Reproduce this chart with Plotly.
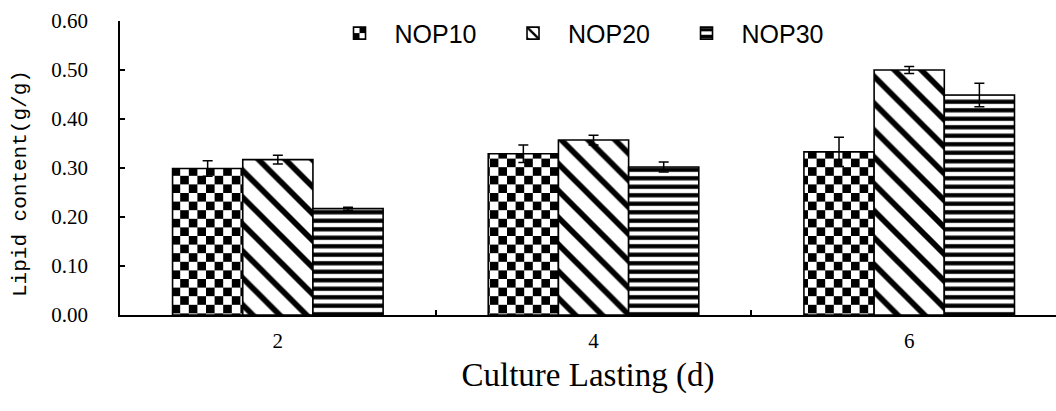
import plotly.graph_objects as go

# Culture time (days) on the category axis
days = ["2", "4", "6"]

# Lipid content (g/g) and standard errors per treatment
nop10 = [0.299, 0.329, 0.333]
nop10_err = [0.016, 0.018, 0.030]
nop20 = [0.317, 0.357, 0.500]
nop20_err = [0.009, 0.010, 0.007]
nop30 = [0.217, 0.302, 0.449]
nop30_err = [0.003, 0.010, 0.024]

y_ticks = [0.0, 0.1, 0.2, 0.3, 0.4, 0.5, 0.6]

series = [
    ("NOP10", nop10, nop10_err, "+", 17.2, 0.5),
    ("NOP20", nop20, nop20_err, "\\", 19, 0.3),
    ("NOP30", nop30, nop30_err, "-", 8.5, 0.5),
]

fig = go.Figure()
for name, vals, errs, shape, size, solidity in series:
    fig.add_trace(go.Bar(
        name=name,
        x=days,
        y=vals,
        error_y=dict(type="data", array=errs, visible=True,
                     color="black", thickness=1.5, width=5),
        marker=dict(
            color="white",
            line=dict(color="black", width=1.6),
            pattern=dict(shape=shape, size=size, solidity=solidity,
                         fgcolor="black", bgcolor="white", fillmode="replace"),
        ),
    ))

tick_font = dict(family="Liberation Serif", size=21, color="black")

fig.update_layout(
    width=1056,
    height=411,
    margin=dict(l=120, r=0, t=21, b=96),
    paper_bgcolor="white",
    plot_bgcolor="white",
    barmode="group",
    bargap=0.333,
    bargroupgap=0,
    showlegend=True,
    legend=dict(
        orientation="h",
        x=0.2185, xanchor="left",
        y=0.958, yanchor="middle",
        font=dict(family="Liberation Sans", size=25, color="black"),
        bgcolor="rgba(0,0,0,0)",
        itemwidth=60,
        entrywidth=98.5,
        entrywidthmode="pixels",
    ),
    xaxis=dict(
        type="category",
        range=[-0.5, 2.465],
        showline=True, linecolor="black", linewidth=1.5,
        ticks="inside", tickson="boundaries", ticklen=5, tickwidth=1.5, tickcolor="black",
        showgrid=False, zeroline=False,
        tickfont=tick_font,
        ticklabelstandoff=6,
        title=dict(text="Culture Lasting (d)",
                   font=dict(family="Liberation Serif", size=33, color="black"),
                   standoff=11),
    ),
    yaxis=dict(
        range=[0, 0.6],
        tickvals=y_ticks,
        tickformat=".2f",
        showline=True, linecolor="black", linewidth=1.5,
        ticks="inside", ticklen=5, tickwidth=1.5, tickcolor="black",
        showgrid=False, zeroline=False,
        tickfont=tick_font,
        ticklabelstandoff=26,
    ),
    annotations=[dict(
        text="Lipid content(g/g)",
        xref="paper", yref="paper",
        x=(20 - 120) / 936, y=(315 - 184) / 294,
        xanchor="center", yanchor="middle",
        textangle=-90, showarrow=False,
        font=dict(family="Liberation Mono", size=21, color="black"),
    )],
)

# Swap the NOP10 fill (bars and legend swatch) for a black/white checkerboard.
checker_js = """
var gd = document.querySelector('.js-plotly-plot');
var NS = 'http://www.w3.org/2000/svg';
var CELL = 8.6;
function paintChecker(group) {
  if (!group) return;
  group.querySelectorAll('path').forEach(function (p) {
    var f = p.style.fill || p.getAttribute('fill') || '';
    var m = f.match(/#([^'")\\s]+)/);
    if (!m) return;
    var pat = document.getElementById(m[1]);
    if (!pat || pat.getAttribute('data-checker')) return;
    pat.setAttribute('data-checker', '1');
    pat.setAttribute('width', 2 * CELL);
    pat.setAttribute('height', 2 * CELL);
    while (pat.firstChild) pat.removeChild(pat.firstChild);
    [[0, 0, '#ffffff', 2 * CELL], [CELL, 0, '#000000', CELL], [0, CELL, '#000000', CELL]].forEach(function (r) {
      var rect = document.createElementNS(NS, 'rect');
      rect.setAttribute('x', r[0]);
      rect.setAttribute('y', r[1]);
      rect.setAttribute('width', r[3]);
      rect.setAttribute('height', r[3]);
      rect.setAttribute('fill', r[2]);
      pat.appendChild(rect);
    });
  });
}
paintChecker(gd.querySelectorAll('.barlayer .trace')[0]);
paintChecker(gd.querySelectorAll('.legend .traces')[0]);
"""

fig.write_html("out.html", post_script=checker_js)
